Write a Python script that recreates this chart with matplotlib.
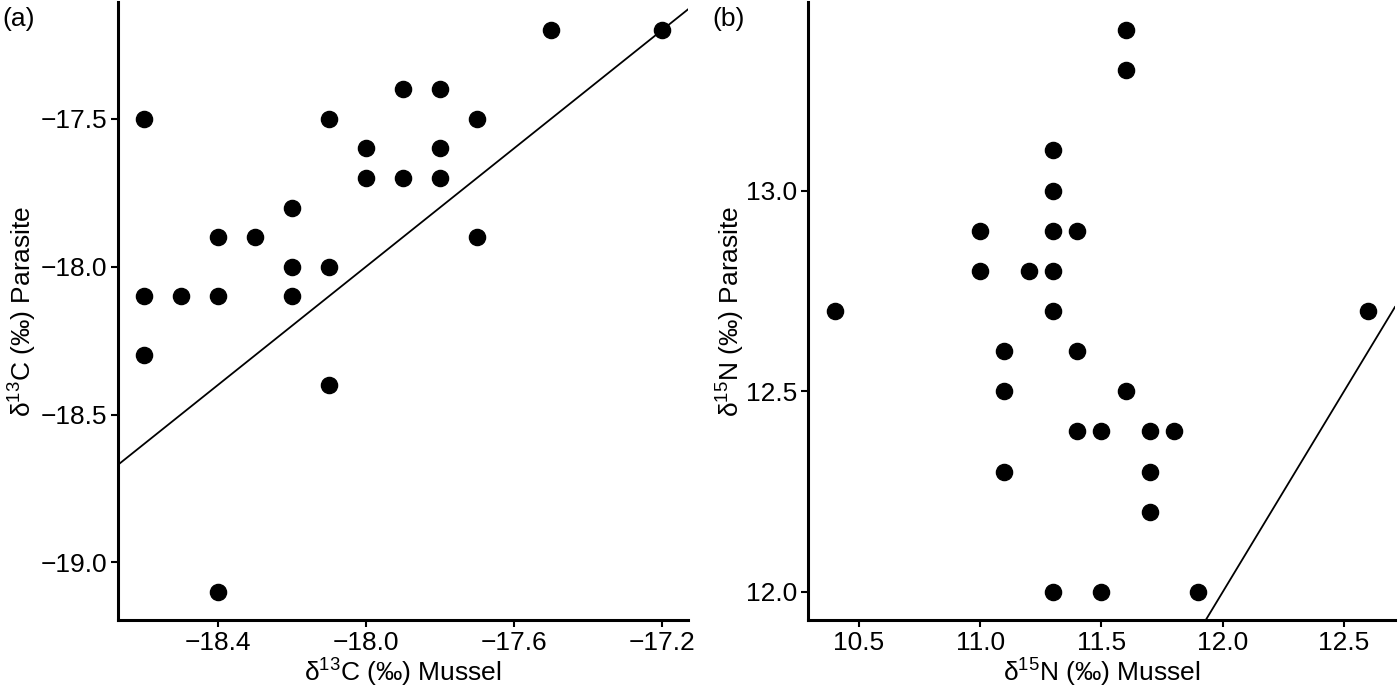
import matplotlib.pyplot as plt

plt.rcParams['font.family'] = ['Liberation Sans', 'DejaVu Sans']
plt.rcParams['mathtext.fontset'] = 'custom'
plt.rcParams['mathtext.rm'] = 'Liberation Sans'

# panel (a): carbon
c_mussel = [-18.6, -18.6, -18.6, -18.5, -18.4, -18.4, -18.4, -18.3, -18.2, -18.2, -18.2,
            -18.1, -18.1, -18.1, -18.0, -18.0, -17.9, -17.9, -17.8, -17.8, -17.8,
            -17.7, -17.7, -17.5, -17.2]
c_parasite = [-17.5, -18.1, -18.3, -18.1, -17.9, -18.1, -19.1, -17.9, -17.8, -18.0, -18.1,
              -17.5, -18.0, -18.4, -17.6, -17.7, -17.4, -17.7, -17.4, -17.6, -17.7,
              -17.5, -17.9, -17.2, -17.2]

# panel (b): nitrogen
n_mussel = [10.4, 11.0, 11.0, 11.1, 11.1, 11.1, 11.2, 11.3, 11.3, 11.3, 11.3, 11.3, 11.3,
            11.4, 11.4, 11.4, 11.5, 11.5, 11.6, 11.6, 11.6, 11.7, 11.7, 11.7, 11.8, 11.9, 12.6]
n_parasite = [12.7, 12.9, 12.8, 12.6, 12.5, 12.3, 12.8, 13.1, 13.0, 12.9, 12.8, 12.7, 12.0,
              12.9, 12.6, 12.4, 12.4, 12.0, 13.4, 13.3, 12.5, 12.4, 12.3, 12.2, 12.4, 12.0, 12.7]

fig = plt.figure(figsize=(14, 6.9), dpi=100)
ax1 = fig.add_axes([0.0843, 0.1014, 0.4071, 0.8957])
ax2 = fig.add_axes([0.5771, 0.1014, 0.4193, 0.8957])

FS = 19


def style(ax):
    for side in ['top', 'right']:
        ax.spines[side].set_visible(False)
    for side in ['left', 'bottom']:
        ax.spines[side].set_linewidth(2.2)
    ax.tick_params(direction='out', length=5, width=1.5, labelsize=FS, colors='black', pad=3)


ax1.scatter(c_mussel, c_parasite, s=135, color='black', zorder=3)
ax1.axline((-18.0, -18.0), slope=1, color='black', lw=1.3)
ax1.set_xlim(-18.67, -17.13)
ax1.set_ylim(-19.195, -17.105)
ax1.set_xticks([-18.4, -18.0, -17.6, -17.2])
ax1.set_yticks([-19.0, -18.5, -18.0, -17.5])
ax1.set_xticklabels(['\u221218.4', '\u221218.0', '\u221217.6', '\u221217.2'])
ax1.set_yticklabels(['\u221219.0', '\u221218.5', '\u221218.0', '\u221217.5'])
ax1.set_xlabel('\u03b4$^{\\mathregular{13}}$C (\u2030) Mussel', fontsize=FS, labelpad=0)
ax1.set_ylabel('\u03b4$^{\\mathregular{13}}$C (\u2030) Parasite', fontsize=FS, labelpad=2)
style(ax1)

ax2.scatter(n_mussel, n_parasite, s=135, color='black', zorder=3)
ax2.axline((12.0, 12.0), slope=1, color='black', lw=1.3)
ax2.set_xlim(10.29, 12.71)
ax2.set_ylim(11.93, 13.47)
ax2.set_xticks([10.5, 11.0, 11.5, 12.0, 12.5])
ax2.set_yticks([12.0, 12.5, 13.0])
ax2.set_xticklabels(['10.5', '11.0', '11.5', '12.0', '12.5'])
ax2.set_yticklabels(['12.0', '12.5', '13.0'])
ax2.set_xlabel('\u03b4$^{\\mathregular{15}}$N (\u2030) Mussel', fontsize=FS, labelpad=0)
ax2.set_ylabel('\u03b4$^{\\mathregular{15}}$N (\u2030) Parasite', fontsize=FS, labelpad=0)
style(ax2)

fig.text(0.002, 0.972, '(a)', fontsize=FS, va='center', ha='left')
fig.text(0.509, 0.972, '(b)', fontsize=FS, va='center', ha='left')

fig.savefig('out.png', dpi=100)
